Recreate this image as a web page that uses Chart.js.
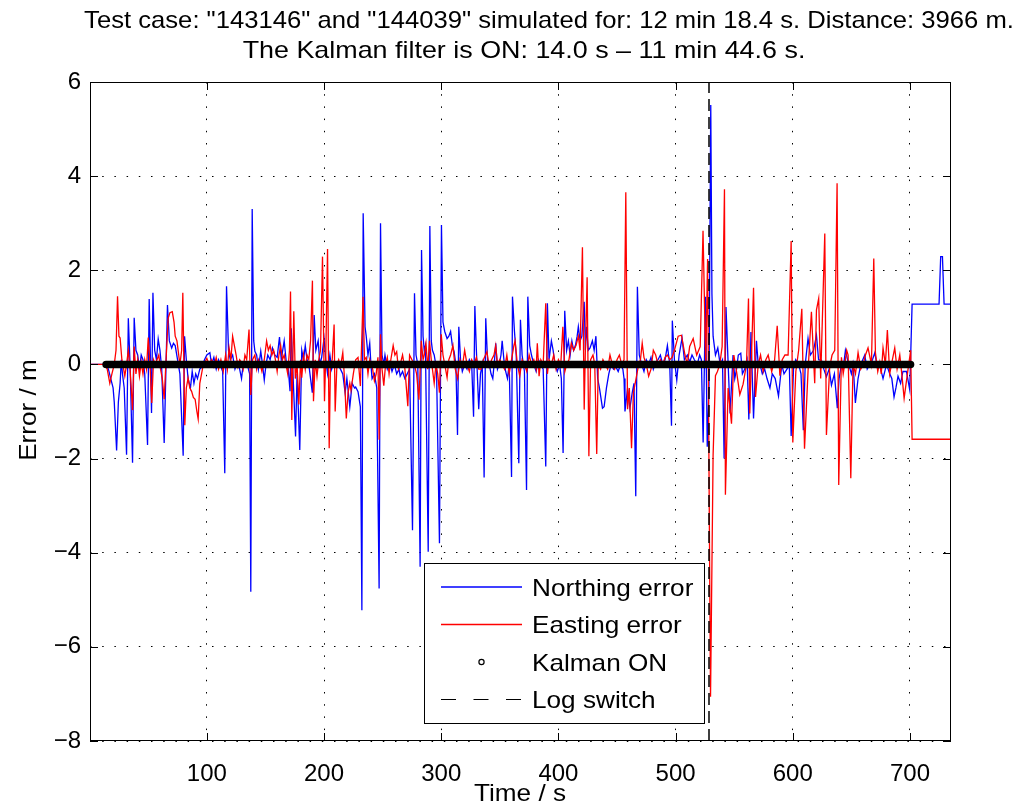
<!DOCTYPE html>
<html>
<head>
<meta charset="utf-8">
<script src="https://cdn.jsdelivr.net/npm/chart.js@4/dist/chart.umd.min.js"></script>
<style>
html, body { margin: 0; padding: 0; background: #fff; }
canvas { display: block; }
</style>
</head>
<body>
<canvas id="errChart" width="1017" height="809"></canvas>
<script>
// titles and labels
const titleLines = [
    'Test case: "143146" and "144039" simulated for: 12 min 18.4 s. Distance: 3966 m.',
    'The Kalman filter is ON: 14.0 s \u2013 11 min 44.6 s.'
];
const xLabel = 'Time / s';
const yLabel = 'Error / m';
const legendNames = ['Northing error', 'Easting error', 'Kalman ON', 'Log switch'];

// axis ranges
const timeRange = [0.3, 735];
const errorRange = [-8, 6];

// first and last Kalman ON marker (s) and log switch time (s)
const kalmanMarks = [14.0, 700.5];
const logSwitchTime = 528.5;

// northing error [time s, error m]
const northing = [
    [0,0],[13,0],[14,0],[16,-0.1],[18,-0.3],[20,-0.5],[21,-0.8],[23,-1.83],[24.5,-0.8],[26,-0.4],
    [27,0.1],[28,-0.2],[29.5,-0.5],[31.5,-1.92],[33,0.98],[34.5,0],[36.6,-2.09],[38,0.99],[39.5,0.3],[41,0.2],
    [42.5,-0.1],[44,0.2],[45.5,0.1],[47,-0.2],[49.4,-1.71],[50.8,1.39],[52.8,-1.03],[54,1.52],[55.5,0.3],[57,0.1],
    [58.5,0.54],[60,0.3],[61.5,-0.1],[63.6,-1.67],[66.4,1.26],[68,0.5],[70,0.35],[71.5,0.45],[73,0.4],[75,0.1],
    [77,-0.2],[79.8,-1.94],[81,0.6],[82.5,0.1],[84,-0.3],[86,-0.5],[87.5,-0.15],[89,-0.4],[90.5,-0.2],[92,-0.3],
    [94,-0.1],[96,-0.05],[98,0.1],[100,0.2],[102.6,0.25],[104,0],[106,0.15],[108,-0.1],[110,0.1],[112,-0.05],
    [113.5,-0.15],[115.3,-2.31],[116.8,1.66],[118.5,0.3],[120,0.1],[122,0.2],[124,-0.1],[126,0.05],[128,-0.1],[129.6,-0.3],
    [131,0],[133,0.05],[135,-0.05],[136.5,-0.2],[137.5,-4.83],[138.7,3.3],[140,0.5],[141,0.28],[142.5,0.2],[144,-0.1],
    [146,0.28],[147.5,0],[149,-0.33],[150.5,0],[152,0.2],[154,0.1],[156,0.35],[158,0.2],[160,0.15],[162,0.58],
    [163.5,0.1],[166,0.5],[168,0],[169.5,-0.1],[171,-0.57],[172,0.77],[173.5,-0.2],[175.7,-1.53],[177,-0.2],[179.3,-1.82],
    [181,0.3],[182.5,0.1],[184,0.4],[185.5,0.1],[187,0],[188.5,-0.3],[190,-0.6],[191.6,1.05],[193,0.3],[195,0.5],
    [196.5,0],[198,0.15],[200,0.55],[201.5,0.1],[203,-0.2],[205,0.2],[206.5,-0.1],[208,0.05],[210,-0.05],[212,0],
    [214,-0.1],[216,-0.2],[218,-0.6],[219.5,-0.3],[222,-0.9],[224,-0.4],[226,-0.5],[227,-0.48],[229,-0.58],[231,-0.9],
    [232.3,-5.22],[233.4,3.21],[235,0.8],[236,0.6],[237.5,0.2],[239,0.45],[240,0],[241,-0.3],[243,-0.2],[245,-0.5],
    [247,-4.76],[248.2,3.0],[249.5,0.2],[251,0],[252,0.2],[254,-0.1],[256,0.05],[258,-0.15],[260,0],[262,-0.2],
    [264,-0.1],[265,-0.25],[267,-0.15],[269,-0.3],[271,-0.2],[273,-0.1],[275.5,-3.52],[277.2,1.51],[278.5,0.2],[280,0],
    [282,-4.3],[283.2,2.43],[284.5,0.6],[285.5,0.3],[286.5,0.4],[288.9,-3.98],[290.3,2.94],[291.5,0.5],[292.5,0.3],[294,0.2],
    [296,-0.1],[298.5,-3.8],[300.2,2.96],[301.5,0.9],[303,0.7],[305,0.55],[306.5,0.6],[308,0.7],[309.5,0.4],[311,0.27],
    [312.5,0],[313.9,-1.5],[315,0.8],[316.5,0.1],[318,-0.15],[320,0],[322,-0.1],[324,0.1],[326,0],[327.6,-1.11],
    [328.7,1.24],[330,0.3],[332,-0.95],[333.5,-0.2],[335,0],[336.6,-2.4],[338,0.98],[339.5,0.1],[341,0],[342.5,-0.2],
    [344,-0.3],[345.5,0.1],[346.5,0.45],[348,-0.1],[349.5,0],[351,0.2],[352,0.5],[353.5,0.1],[355,-0.15],[356.5,-0.3],
    [358,0],[360,-2.39],[360.8,1.44],[362.5,0.7],[364,0.2],[366.2,-2.1],[367.6,0.95],[369,0.2],[371,-0.15],[372.8,-2.67],
    [373.9,1.44],[375.5,0.4],[377,0.2],[379,0],[381,-0.15],[383,0.1],[385,0],[387,-0.1],[389.2,-2.17],[390.6,1.3],
    [392,0.1],[394,0.5],[395.5,0.3],[397,0],[399,-0.15],[401,0],[402.5,-0.3],[404,-1.88],[405.4,1.14],[407,0.3],
    [408.5,0.5],[410,0.2],[411.5,0.5],[413,0.3],[414.5,0.4],[416,0.6],[417,0.8],[418.5,0.5],[420,0.6],[422,1.33],
    [423,0.3],[424,0.8],[425.5,0.3],[427,0.35],[429,0.5],[430.5,0.3],[432,0.6],[433.5,-0.3],[435,-0.5],[437.6,-0.93],
    [439,-0.9],[441,-0.5],[443,-0.2],[445,0],[447,-0.1],[449,-0.05],[451,-0.15],[453,0],[455,-0.1],[456,-0.3],
    [456.8,-1.0],[459,-0.51],[461,-0.93],[463,-0.6],[464.5,-0.4],[466,-2.8],[467.4,1.65],[469,0.2],[471,0],[473,-0.15],
    [475,0.1],[477,0],[479,0.15],[481,-0.1],[483,0.05],[485,0.1],[487,0.2],[489,0],[491,0.1],[493,0.4],
    [495,0],[496.5,-1.3],[497.2,0.93],[499,0.1],[501,-0.33],[503,0.2],[505.5,0.56],[507.5,0.1],[510,0.2],[512,0.05],
    [514,0.2],[516,0.1],[518.5,0],[520.5,0.2],[522,0.1],[523.5,-1.66],[525.5,1.44],[527,-1.75],[528.5,-0.5],[530,5.51],
    [531,1.5],[532,0.6],[534,0.2],[536,0.35],[538,0],[540,0.1],[541.4,-2.0],[543,1.22],[545,-0.1],[546.5,-1.04],
    [549,0.2],[550.5,-0.3],[552,-0.1],[553.5,0.2],[555.6,0.24],[557,-0.2],[559,-0.1],[561,0.1],[562.5,-1.17],[564.3,0.69],
    [566.5,-1.15],[569,0.5],[570.5,0],[572,0],[574,-0.2],[576,-0.1],[578,-0.3],[580.5,-0.5],[582.5,-0.2],[585,-0.3],
    [587.8,-0.67],[590.6,0],[592.5,-0.2],[595,-0.1],[597,0],[598.6,-1.52],[600.6,-0.1],[602.5,0.1],[605,0],[607,-0.2],
    [609,-1.4],[610.6,0],[613,0.55],[615,0.2],[617.7,0.3],[620.2,0.62],[622,0.1],[624.4,0.09],[626.5,-0.1],[628.7,-0.26],
    [631,-0.1],[633,-0.44],[635.5,-0.2],[638,-0.93],[639.5,-0.3],[641.5,0],[643,-0.1],[644.9,0.3],[647.2,0.05],[650,-0.2],
    [651.5,0],[653.4,-0.82],[655.7,-0.3],[658,0],[661.4,0.2],[663.5,-0.1],[665.7,0],[668,0.1],[670,0.25],[672,-0.05],
    [674,0],[677,-0.3],[680,0],[682.7,-0.2],[684.5,-0.3],[686.4,-0.69],[688,-0.5],[689.8,-0.25],[692,-0.4],[694,-0.15],
    [697,-0.15],[699.8,-0.54],[701.8,1.28],[724.8,1.28],[726.2,2.29],[727.7,2.29],[729.1,1.28],[738,1.28]
];

// easting error [time s, error m]
const easting = [
    [0,0],[13,0],[15,-0.1],[17.2,-0.4],[19,-0.2],[21,0],[22.5,0.3],[23.8,1.45],[25,0.6],[26,0.56],
    [27.5,0.1],[29,-0.1],[30,-0.25],[31.5,0],[33,0.3],[34.5,-0.1],[36.6,-0.97],[38,0.38],[39.5,-0.2],[41,0.1],
    [42.5,-0.25],[44,0.05],[45.5,-0.2],[47,0.1],[48.5,-0.1],[50,0.57],[51.5,0],[53,-0.82],[54.5,0.1],[56,0],
    [57.5,0.1],[59,0.2],[60.5,-0.1],[62,-0.3],[63.6,-0.74],[65,0],[67,0.98],[68.5,1.1],[70.5,1.12],[72,0.9],
    [73,0.6],[74.5,0.5],[76,0.2],[77,0],[78.5,0.3],[79.5,1.52],[81.2,-1.29],[82.5,-0.5],[84,-0.29],[85.5,-0.5],
    [87,-0.57],[88.5,-0.7],[90,-0.74],[91.5,-1.0],[92.6,-1.16],[94,-0.4],[95.5,-0.2],[97,0],[98.5,0.05],[100,0.13],
    [102,0],[104,0.1],[106,-0.05],[108,0.15],[110,-0.1],[112,0.1],[114,-0.15],[116,0.2],[117.5,-0.1],[119,0.35],
    [120.5,0.1],[122,0.6],[123.5,0.4],[125,0.2],[126.5,-0.05],[128,0.1],[129.5,0.05],[131,-0.1],[132.5,0.2],[134,0.1],
    [136,0.74],[137.5,-0.65],[139,0.1],[141,0.2],[142.5,-0.1],[144,0.1],[145.5,0],[147,-0.15],[149,0.1],[151,0.5],
    [152.5,0.3],[154,0.4],[155.5,0.2],[157,0.3],[158.5,0.1],[160,-0.15],[161.5,0.2],[163,0.4],[164.5,0.1],[166,0.2],
    [167.5,0],[169,-0.2],[170.5,0.3],[171.4,1.55],[172.5,-1.18],[174.2,1.13],[175.5,-0.3],[177,0],[178.5,-0.85],[180,0.1],
    [181,-0.28],[182.5,0.2],[184,-0.1],[185.5,0.2],[187,0.1],[188.5,0.5],[190.1,1.78],[191,-0.78],[192.5,0.1],[194,-0.25],
    [195.5,0.1],[197,0.3],[198.7,2.29],[200.4,-0.78],[201.5,0.2],[203,2.45],[204.4,-1.78],[205.5,0],[207,0.1],[208.6,0.85],
    [209.5,-1.0],[211,0],[212.5,0.1],[214,-0.05],[216,0.25],[217.5,-0.3],[219,-1.15],[220.5,-0.6],[222,-0.4],[223,-0.55],
    [225,-0.2],[227,0.1],[229,0.15],[231,-0.46],[233.3,1.44],[234.5,0.1],[236,0.15],[237.5,-0.2],[239,0.1],[240,0],
    [241.5,-0.1],[243,-0.35],[244.5,-0.2],[246,0.15],[247,-1.6],[248.2,0.64],[249.5,-0.1],[251,-0.45],[252.5,0],[254,0.15],
    [255.5,-0.2],[257,0.1],[259,0.4],[260.5,0.2],[262,0.27],[263.5,-0.1],[265,0],[267,0.2],[269,-0.1],[271.5,-0.89],
    [273,0.2],[275,0.1],[277,0],[279,-0.2],[281,-0.75],[283,0.5],[284.5,0.1],[285.5,0.2],[287,0.45],[288.5,-0.1],
    [290,0.5],[291.5,0.1],[292.5,-0.1],[294,-0.4],[295.5,0],[297,-0.2],[298.5,-0.6],[300,0.64],[301.5,0.2],[303,0],
    [305,-0.28],[306.5,0.1],[308,0.2],[310,0.4],[312,-0.1],[314,-0.3],[316,0.1],[318,-0.05],[320,0.3],[322,0],
    [324,-0.15],[326,0.1],[328,0],[330,0.15],[332,-0.1],[334,-0.1],[336,0.1],[339,0.27],[341,-0.05],[343,0.1],
    [345,0.2],[346.5,0.4],[348,0],[350,0.1],[352,0],[354,-0.1],[356,0.2],[358,-0.2],[360,0.1],[362,0.4],
    [363,0.5],[365,0],[367,-0.25],[369,0.1],[371,0],[373,-0.15],[375,0.2],[377,0],[379,0.1],[381,-0.1],
    [382,0.45],[383.5,-0.25],[385,0.1],[387,0],[389.2,1.3],[390.6,-0.2],[392,0.1],[394,0],[396,0.2],[398,-0.1],
    [400,0.1],[402,0],[403.8,0.8],[405.5,-0.15],[407,0],[409,0.1],[411,0.45],[413,0.3],[415,0.4],[417,0.6],
    [418.5,0.3],[420.5,2.49],[422,-0.96],[423,0.3],[424.5,1.85],[426,-1.95],[427.5,0.1],[429.5,0.2],[431,0],[432.7,-1.9],
    [434,0],[436,-0.1],[438,0.1],[440,0],[442,-0.1],[444,0.2],[446,0],[448,-0.1],[450,0.1],[452,0.2],
    [454,0],[456,0.1],[457.5,3.66],[459,-0.95],[460.5,-0.5],[462.4,-1.78],[464,-0.6],[465.5,-0.4],[467,-0.2],[468.5,0],
    [470,0.1],[471.5,0.45],[473,0.15],[475,0],[477,-0.25],[479,-0.1],[481,0.3],[483,0.2],[485,0],[487,0.1],
    [489,0],[491,0.15],[493,0.2],[495,0.1],[497,0.15],[499,0.3],[502.2,0.6],[505,0.62],[508,0.2],[510,0],
    [512,0.38],[515,0.55],[518,0.2],[521,0.38],[523.4,2.84],[525.7,0],[527.3,2.24],[529.8,-7.06],[532,-1.93],[534,-0.24],
    [535.7,-0.15],[537.7,0],[539.7,0.38],[541.7,3.72],[542.5,-2.77],[544.8,-0.5],[547.7,-1.26],[549.7,0.2],[552,-0.15],[554.8,-0.64],
    [557.6,-0.42],[560.5,0],[562.2,1.4],[563.3,-1.04],[566.5,1.63],[568.2,-0.69],[570.5,0],[572.5,0.2],[574.7,-0.15],[577,0.1],
    [579,0.2],[582,-0.15],[584.5,0.1],[586.7,0.82],[589,-0.24],[591,0.1],[593.3,0.2],[596,0.2],[598.6,2.62],[600,-1.66],
    [602.6,-0.15],[605,0.3],[607.7,1.18],[610,-1.79],[613,-0.15],[615.9,1.12],[618.7,-0.4],[620.2,1.16],[622.1,1.4],[623.8,-0.3],
    [627.3,2.78],[628.7,-1.5],[631.5,-0.05],[633.5,0.2],[635.8,0.3],[637.8,3.85],[639.2,-2.56],[641.5,0.15],[643,-0.2],[644.3,0],
    [646,0.3],[647.2,0.2],[649.5,-2.42],[651.4,0],[653.5,-0.2],[655.7,0.25],[658,-0.1],[660,0],[662,0.2],[664.2,0.35],
    [667.1,0],[669.1,2.25],[670.5,0.25],[672.5,-0.15],[674.2,0.05],[675.5,-0.2],[677,0.35],[679,0],[680.7,0.73],[682.7,-0.2],
    [685,0.1],[687,0.35],[689,-0.1],[691.3,0.2],[693,-0.2],[695,-0.72],[697.8,-0.2],[700.6,0.3],[701.8,-1.59],[738,-1.59]
];

const FONT = "'Liberation Sans', Arial, Helvetica, sans-serif";

// the original text is a bit wider than Arial, so it is stretched sideways
function wideText(ctx, str, x, y, align, sx, angle) {
    ctx.save();
    ctx.translate(x, y);
    if (angle) ctx.rotate(angle);
    ctx.scale(sx, 1);
    ctx.textAlign = align;
    ctx.textBaseline = 'alphabetic';
    ctx.fillText(str, 0, 0);
    ctx.restore();
}

// matlab style box, inward ticks, legend and titles
const matlabFrame = {
    id: 'matlabFrame',
    afterDatasetsDraw(chart) {
        const ctx = chart.ctx;
        const a = chart.chartArea;
        const xs = chart.scales.x, ys = chart.scales.y;
        ctx.save();
        ctx.strokeStyle = '#000';
        ctx.lineWidth = 1;
        ctx.strokeRect(Math.round(a.left) + 0.5, Math.round(a.top) + 0.5,
            Math.round(a.width) - 1, Math.round(a.height) - 1);
        ctx.beginPath();
        xs.ticks.forEach(t => {
            const px = Math.round(xs.getPixelForValue(t.value)) + 0.5;
            ctx.moveTo(px, a.bottom); ctx.lineTo(px, a.bottom - 8);
            ctx.moveTo(px, a.top); ctx.lineTo(px, a.top + 8);
        });
        ys.ticks.forEach(t => {
            const py = Math.round(ys.getPixelForValue(t.value)) + 0.5;
            ctx.moveTo(a.left, py); ctx.lineTo(a.left + 8, py);
            ctx.moveTo(a.right, py); ctx.lineTo(a.right - 8, py);
        });
        ctx.stroke();

        // legend box
        const lx = 424, ly = 563, lw = 280, lh = 160;
        ctx.fillStyle = '#fff';
        ctx.fillRect(lx, ly, lw, lh);
        ctx.strokeRect(lx + 0.5, ly + 0.5, lw, lh);
        const rows = [587, 624.5, 662, 699.5];
        const colours = ['#0000ff', '#ff0000'];
        ctx.lineWidth = 1.3;
        for (let i = 0; i < 2; i++) {
            ctx.strokeStyle = colours[i];
            ctx.beginPath();
            ctx.moveTo(441, rows[i]); ctx.lineTo(522, rows[i]);
            ctx.stroke();
        }
        ctx.strokeStyle = '#000';
        ctx.lineWidth = 1.2;
        ctx.beginPath();
        ctx.arc(481.5, rows[2], 2.6, 0, Math.PI * 2);
        ctx.stroke();
        ctx.setLineDash([15, 17.5]);
        ctx.beginPath();
        ctx.moveTo(441, rows[3]); ctx.lineTo(522, rows[3]);
        ctx.stroke();
        ctx.setLineDash([]);

        ctx.fillStyle = '#000';
        ctx.font = '24px ' + FONT;
        legendNames.forEach((name, i) => wideText(ctx, name, 532, rows[i] + 8.6, 'left', 1.09));
        ctx.restore();
    },
    afterDraw(chart) {
        const ctx = chart.ctx;
        ctx.save();
        ctx.fillStyle = '#000';
        ctx.font = '24px ' + FONT;
        wideText(ctx, titleLines[0], 549, 28, 'center', 1.068);
        wideText(ctx, titleLines[1], 524, 58, 'center', 1.12);
        wideText(ctx, xLabel, 520, 801, 'center', 1.09);
        wideText(ctx, yLabel, 36, 410, 'center', 1.09, -Math.PI / 2);
        ctx.restore();
    }
};

const toXY = pts => pts.map(p => ({ x: p[0], y: p[1] }));

const gridLook = {
    grid: { color: '#000', lineWidth: 1, drawTicks: false },
    border: { display: false, dash: [1.5, 10.7] }
};

new Chart(document.getElementById('errChart'), {
    type: 'line',
    data: {
        datasets: [
            {
                label: legendNames[3],
                data: [{ x: logSwitchTime, y: errorRange[0] }, { x: logSwitchTime, y: errorRange[1] }],
                borderColor: '#000', borderWidth: 1.5, borderDash: [12, 6],
                pointRadius: 0, order: 0
            },
            {
                label: legendNames[2],
                data: [{ x: kalmanMarks[0], y: 0 }, { x: kalmanMarks[1], y: 0 }],
                borderColor: '#000', borderWidth: 7.5, borderCapStyle: 'round',
                pointRadius: 0, order: 1
            },
            {
                label: legendNames[1],
                data: toXY(easting),
                borderColor: '#ff0000', borderWidth: 1.3,
                pointRadius: 0, tension: 0, order: 2
            },
            {
                label: legendNames[0],
                data: toXY(northing),
                borderColor: '#0000ff', borderWidth: 1.3,
                pointRadius: 0, tension: 0, order: 3
            }
        ]
    },
    options: {
        responsive: false,
        animation: false,
        devicePixelRatio: 1,
        layout: { padding: { top: 82, right: 66, left: 0, bottom: 0 } },
        plugins: {
            legend: { display: false },
            title: { display: false },
            tooltip: { enabled: false }
        },
        scales: {
            x: {
                type: 'linear',
                min: timeRange[0],
                max: timeRange[1],
                ...gridLook,
                ticks: {
                    stepSize: 100, includeBounds: false, padding: 19,
                    color: '#000', font: { family: FONT, size: 24 },
                    maxRotation: 0
                },
                afterFit(s) { s.height = 68; }
            },
            y: {
                type: 'linear',
                min: errorRange[0],
                max: errorRange[1],
                ...gridLook,
                ticks: {
                    stepSize: 2, padding: 9,
                    color: '#000', font: { family: FONT, size: 24 },
                    callback: v => (v < 0 ? '\u2212' + Math.abs(v) : String(v))
                },
                afterFit(s) { s.width = 90; }
            }
        }
    },
    plugins: [matlabFrame]
});
</script>
</body>
</html>
